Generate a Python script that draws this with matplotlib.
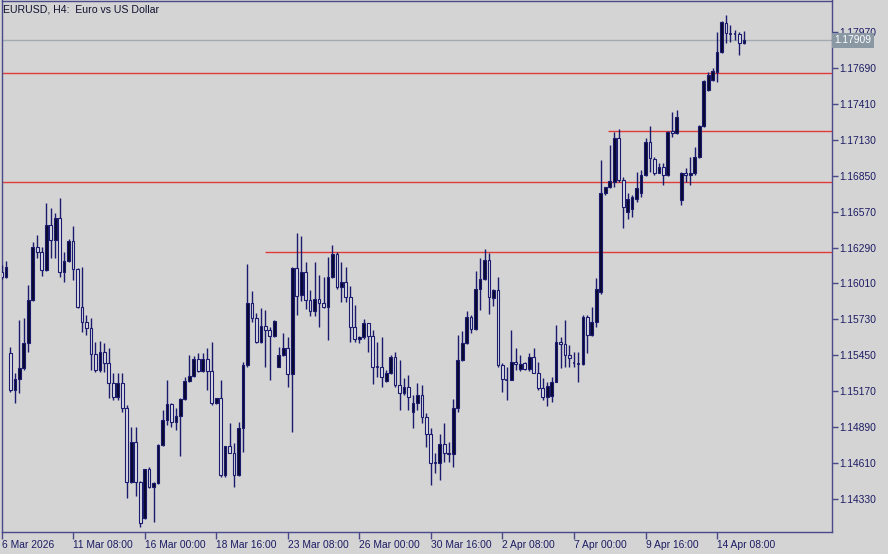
import matplotlib.pyplot as plt
import numpy as np
from matplotlib.transforms import blended_transform_factory

# EURUSD H4 candles, 6 Mar 2026 16:00 .. 15 Apr 2026 08:00 (index = bar number)
opens = [
    1.16099, 1.16058, 1.15465, 1.15178, 1.15262, 1.15347, 1.15543, 1.15881, 1.16292, 1.16258,
    1.16115, 1.16466, 1.16349, 1.16518, 1.16101, 1.16185, 1.16343, 1.16123, 1.15828, 1.15711,
    1.15660, 1.15459, 1.15334, 1.15477, 1.15386, 1.15230, 1.15126, 1.15235, 1.15035, 1.14462,
    1.14775, 1.14462, 1.14177, 1.14559, 1.14423, 1.14455, 1.14749, 1.14944, 1.15069, 1.14930,
    1.14975, 1.15108, 1.15251, 1.15287, 1.15418, 1.15329, 1.15418, 1.15329, 1.15074, 1.15113,
    1.14515, 1.14741, 1.14689, 1.14515, 1.14879, 1.15373, 1.15859, 1.15738, 1.15555, 1.15678,
    1.15646, 1.15600, 1.15360, 1.15451, 1.15508, 1.15303, 1.16128, 1.15920, 1.16101, 1.15881,
    1.15797, 1.15886, 1.15855, 1.15824, 1.16062, 1.16240, 1.15980, 1.16023, 1.15906, 1.15672,
    1.15574, 1.15589, 1.15699, 1.15600, 1.15360, 1.15355, 1.15251, 1.15313, 1.15438, 1.15217,
    1.15152, 1.15199, 1.15009, 1.15074, 1.15139, 1.14970, 1.14835, 1.14606, 1.14612, 1.14757,
    1.14689, 1.14679, 1.15035, 1.15412, 1.15543, 1.15750, 1.15652, 1.15964, 1.16042, 1.16193,
    1.15900, 1.15959, 1.15373, 1.15262, 1.15260, 1.15399, 1.15339, 1.15387, 1.15339, 1.15438,
    1.15313, 1.15191, 1.15126, 1.15131, 1.15243, 1.15555, 1.15537, 1.15451, 1.15389, 1.15386,
    1.15384, 1.15745, 1.15607, 1.15711, 1.15940, 1.16718, 1.16760, 1.16800, 1.17143, 1.16817,
    1.16570, 1.16588, 1.16667, 1.16713, 1.16856, 1.17116, 1.16979, 1.16874, 1.16916, 1.16856,
    1.17200, 1.17184, 1.16661, 1.16874, 1.16856, 1.16869, 1.16994, 1.17240, 1.17520, 1.17598,
    1.17662, 1.17819, 1.18045, 1.17962, 1.17960, 1.17958, 1.17884]
highs = [
    1.16154, 1.16187, 1.15516, 1.15313, 1.15724, 1.15738, 1.15998, 1.16336, 1.16388, 1.16297,
    1.16640, 1.16596, 1.16557, 1.16674, 1.16258, 1.16354, 1.16458, 1.16130, 1.16136, 1.15763,
    1.15738, 1.15555, 1.15563, 1.15543, 1.15504, 1.15308, 1.15308, 1.15313, 1.15061, 1.14892,
    1.14892, 1.14470, 1.14565, 1.14579, 1.14460, 1.14755, 1.15022, 1.15256, 1.15075, 1.15035,
    1.15113, 1.15282, 1.15451, 1.15443, 1.15465, 1.15465, 1.15504, 1.15555, 1.15116, 1.15256,
    1.14741, 1.14923, 1.14767, 1.14931, 1.15399, 1.16162, 1.15953, 1.15777, 1.15816, 1.15802,
    1.15672, 1.15724, 1.15516, 1.15621, 1.15594, 1.16135, 1.16401, 1.16380, 1.16179, 1.15959,
    1.16179, 1.16076, 1.16062, 1.16219, 1.16310, 1.16258, 1.16179, 1.16140, 1.15990, 1.15842,
    1.15600, 1.15730, 1.15705, 1.15646, 1.15555, 1.15594, 1.15334, 1.15451, 1.15477, 1.15412,
    1.15269, 1.15295, 1.15139, 1.15230, 1.15217, 1.14996, 1.14879, 1.14684, 1.14835, 1.14918,
    1.14775, 1.15106, 1.15607, 1.15641, 1.15797, 1.15763, 1.16109, 1.16206, 1.16276, 1.16245,
    1.15965, 1.16058, 1.15390, 1.15360, 1.15646, 1.15504, 1.15451, 1.15399, 1.15465, 1.15504,
    1.15399, 1.15269, 1.15243, 1.15282, 1.15685, 1.15594, 1.15724, 1.15529, 1.15477, 1.15477,
    1.15763, 1.15763, 1.15828, 1.16050, 1.16973, 1.16765, 1.17090, 1.17194, 1.17213, 1.16843,
    1.16718, 1.16700, 1.16882, 1.16895, 1.17143, 1.17239, 1.16999, 1.16947, 1.16947, 1.17202,
    1.17348, 1.17364, 1.16882, 1.16908, 1.16999, 1.17077, 1.17246, 1.17598, 1.17662, 1.17689,
    1.17975, 1.18060, 1.18105, 1.18027, 1.17988, 1.17975, 1.17982]
lows = [
    1.16044, 1.16052, 1.15165, 1.15074, 1.15157, 1.15334, 1.15477, 1.15875, 1.16206, 1.16068,
    1.16110, 1.16206, 1.16206, 1.16062, 1.16023, 1.16180, 1.16037, 1.15816, 1.15633, 1.15607,
    1.15334, 1.15321, 1.15321, 1.15321, 1.15113, 1.15100, 1.15100, 1.15009, 1.14333, 1.14450,
    1.14351, 1.14111, 1.14170, 1.14411, 1.14150, 1.14445, 1.14740, 1.14905, 1.14892, 1.14866,
    1.14663, 1.15100, 1.15240, 1.15280, 1.15321, 1.15321, 1.15178, 1.15061, 1.15069, 1.14501,
    1.14501, 1.14684, 1.14423, 1.14507, 1.14697, 1.15357, 1.15711, 1.15547, 1.15543, 1.15360,
    1.15256, 1.15590, 1.15355, 1.15440, 1.15204, 1.14853, 1.15763, 1.15875, 1.15808, 1.15756,
    1.15756, 1.15672, 1.15816, 1.15568, 1.16050, 1.15964, 1.15867, 1.15867, 1.15555, 1.15555,
    1.15543, 1.15580, 1.15477, 1.15225, 1.15282, 1.15204, 1.15243, 1.15305, 1.15204, 1.15022,
    1.15140, 1.15022, 1.14879, 1.15022, 1.14923, 1.14736, 1.14437, 1.14528, 1.14476, 1.14618,
    1.14618, 1.14579, 1.15009, 1.15405, 1.15536, 1.15621, 1.15645, 1.15802, 1.16035, 1.15771,
    1.15835, 1.15360, 1.15165, 1.15100, 1.15255, 1.15334, 1.15330, 1.15334, 1.15330, 1.15308,
    1.15178, 1.15100, 1.15053, 1.15087, 1.15238, 1.15347, 1.15360, 1.15360, 1.15360, 1.15243,
    1.15375, 1.15465, 1.15600, 1.15667, 1.15930, 1.16700, 1.16755, 1.16765, 1.16802, 1.16440,
    1.16510, 1.16531, 1.16648, 1.16682, 1.16850, 1.16882, 1.16856, 1.16869, 1.16778, 1.16850,
    1.17153, 1.17175, 1.16622, 1.16804, 1.16778, 1.16856, 1.16985, 1.17233, 1.17514, 1.17590,
    1.17584, 1.17810, 1.17884, 1.17897, 1.17910, 1.17793, 1.17880]
closes = [
    1.16060, 1.16136, 1.15178, 1.15262, 1.15347, 1.15543, 1.15881, 1.16292, 1.16258, 1.16115,
    1.16466, 1.16349, 1.16518, 1.16101, 1.16185, 1.16343, 1.16123, 1.15828, 1.15711, 1.15660,
    1.15459, 1.15334, 1.15477, 1.15386, 1.15230, 1.15126, 1.15235, 1.15035, 1.14462, 1.14775,
    1.14462, 1.14142, 1.14559, 1.14423, 1.14455, 1.14749, 1.14944, 1.15069, 1.14930, 1.14975,
    1.15108, 1.15251, 1.15287, 1.15418, 1.15329, 1.15418, 1.15329, 1.15074, 1.15113, 1.14515,
    1.14741, 1.14689, 1.14515, 1.14879, 1.15373, 1.15859, 1.15738, 1.15555, 1.15678, 1.15646,
    1.15600, 1.15719, 1.15451, 1.15508, 1.15303, 1.16128, 1.15912, 1.16101, 1.15881, 1.15797,
    1.15886, 1.15855, 1.15824, 1.16062, 1.16240, 1.15980, 1.16023, 1.15906, 1.15672, 1.15574,
    1.15589, 1.15699, 1.15600, 1.15360, 1.15355, 1.15282, 1.15313, 1.15438, 1.15217, 1.15152,
    1.15199, 1.15126, 1.15074, 1.15139, 1.14970, 1.14835, 1.14606, 1.14612, 1.14757, 1.14689,
    1.14679, 1.15035, 1.15412, 1.15543, 1.15750, 1.15652, 1.15964, 1.16042, 1.16193, 1.15906,
    1.15959, 1.15373, 1.15262, 1.15260, 1.15399, 1.15381, 1.15381, 1.15339, 1.15438, 1.15313,
    1.15191, 1.15126, 1.15209, 1.15243, 1.15555, 1.15537, 1.15451, 1.15425, 1.15386, 1.15384,
    1.15745, 1.15607, 1.15711, 1.15964, 1.16718, 1.16760, 1.16812, 1.17143, 1.16817, 1.16609,
    1.16667, 1.16682, 1.16752, 1.16856, 1.17116, 1.16987, 1.16869, 1.16916, 1.16856, 1.17195,
    1.17184, 1.17307, 1.16874, 1.16856, 1.16869, 1.16994, 1.17240, 1.17590, 1.17637, 1.17670,
    1.17819, 1.18053, 1.17962, 1.17960, 1.17958, 1.17884, 1.17909]

time_tick_bars = [0, 16, 32, 48, 64, 80, 96, 112, 128, 144, 160]
time_tick_labels = ["6 Mar 2026", "11 Mar 08:00", "16 Mar 00:00", "18 Mar 16:00",
                    "23 Mar 08:00", "26 Mar 00:00", "30 Mar 16:00", "2 Apr 08:00",
                    "7 Apr 00:00", "9 Apr 16:00", "14 Apr 08:00"]
price_ticks = [1.14330, 1.14610, 1.14890, 1.15170, 1.15450, 1.15730, 1.16010,
               1.16290, 1.16570, 1.16850, 1.17130, 1.17410, 1.17690, 1.17970]

# horizontal levels: (price, first bar)
levels = [(1.17653, 0), (1.16802, 0), (1.17199, 135.6), (1.16255, 59.0)]
bid = 1.17909

bg = "#d4d4d4"
navy = "#1a1a6e"
txt = "#1c1c64"
plt.rcParams["font.family"] = ["Liberation Sans", "DejaVu Sans"]

fig = plt.figure(figsize=(8.88, 5.54), dpi=100, facecolor=bg)
ax = fig.add_axes([1.5 / 888, 22 / 554, 830.5 / 888, 531.5 / 554])
ax.set_facecolor(bg)

o = np.array(opens)
h = np.array(highs)
l = np.array(lows)
c = np.array(closes)
x = np.arange(len(o))
up = c > o

ax.vlines(x, l, h, color=navy, lw=1, zorder=3)
bot = np.minimum(o, c)
ht = np.abs(c - o)
big = ht > 0.00006
ax.bar(x[big], ht[big], bottom=bot[big], width=0.62,
       color=np.where(up[big], "#0a0a2e", "#dcdce2"),
       edgecolor=navy, linewidth=0.8, zorder=4)
ax.hlines(c[~big], x[~big] - 0.31, x[~big] + 0.31, color=navy, lw=1.2, zorder=4)

xmax = 185.7
for price, start in levels:
    ax.hlines(price, start, xmax, color="#e03a3a", lw=1, zorder=2)
ax.axhline(bid, color="#a2aab2", lw=1, zorder=2)

ax.set_xlim(0.11, xmax)
ax.set_ylim(1.14070, 1.18218)

for s in ax.spines.values():
    s.set_color("#4a4a8a")
    s.set_linewidth(1)

ax.yaxis.tick_right()
ax.set_yticks(price_ticks)
ax.set_yticklabels([f"{p:.5f}" for p in price_ticks])
ax.tick_params(axis="y", direction="out", length=4, width=1, color="#4a4a8a",
               labelcolor=txt, labelsize=7.4, pad=1)
ax.set_xticks(time_tick_bars)
ax.set_xticklabels(time_tick_labels, ha="left")
ax.tick_params(axis="x", direction="out", length=5, width=1, color="#4a4a8a",
               labelcolor=txt, labelsize=7.4, pad=1)

tr = blended_transform_factory(ax.transAxes, ax.transData)
ax.text(1.003, bid, "1.17909", transform=tr, fontsize=7.4, color="white",
        va="center", ha="left", zorder=10, clip_on=False,
        bbox=dict(boxstyle="square,pad=0.25", fc="#8a98a4", ec="none"))

fig.text(3 / 888, 1 - 9 / 554, "EURUSD, H4:  Euro vs US Dollar", fontsize=7.6,
         color="#101030", va="center", ha="left")

fig.savefig("out.png", dpi=100, facecolor=bg)
